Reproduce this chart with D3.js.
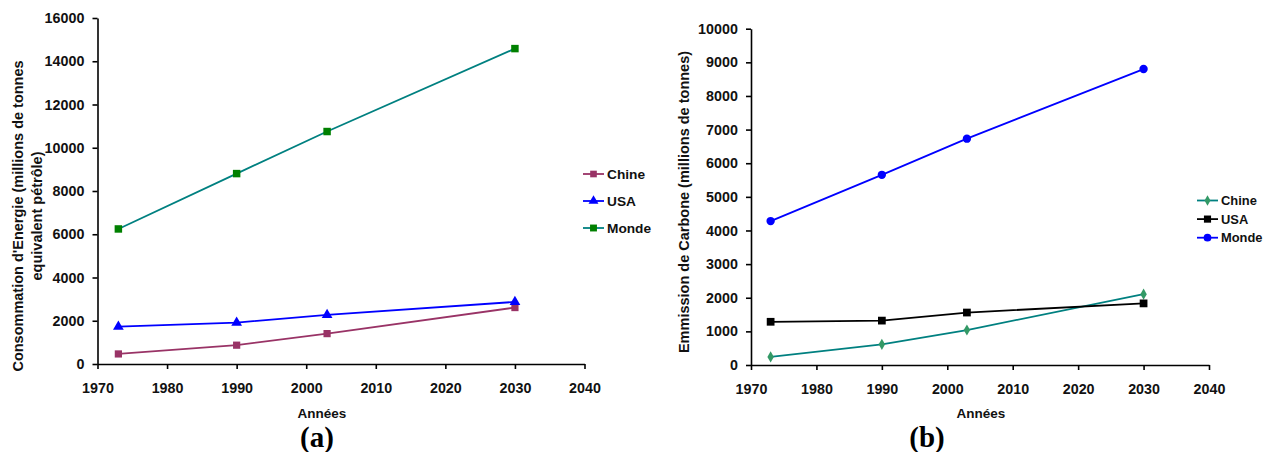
<!DOCTYPE html>
<html><head><meta charset="utf-8">
<script src="https://cdn.jsdelivr.net/npm/d3@7"></script>
<style>body{margin:0;background:#fff}svg{display:block}text{font-family:"Liberation Sans",Arial,sans-serif;font-weight:bold}</style>
</head><body><svg id="c" width="1275" height="452"></svg>
<script>
const years = [1973, 1990, 2003, 2030];
const xTicks = [1970, 1980, 1990, 2000, 2010, 2020, 2030, 2040];
// Chart (a): energy consumption
const energyChine = [465, 870, 1405, 2610];
const energyUSA = [1730, 1915, 2270, 2870];
const energyMonde = [6245, 8805, 10750, 14585];
const energyTicks = [0, 2000, 4000, 6000, 8000, 10000, 12000, 14000, 16000];
// Chart (b): carbon emissions
const carbonChine = [240, 615, 1040, 2105];
const carbonUSA = [1285, 1320, 1560, 1832];
const carbonMonde = [4280, 5655, 6730, 8800];
const carbonTicks = [0, 1000, 2000, 3000, 4000, 5000, 6000, 7000, 8000, 9000, 10000];
const names = ["Chine", "USA", "Monde"];

const svg = d3.select("#c");

function sym(type, size){ return d3.symbol().type(type).size(size)(); }

function panel(cfg){
  const g = svg.append("g");
  const x = d3.scaleLinear().domain([1970, 2040]).range([cfg.x0, cfg.x1]);
  const y = d3.scaleLinear().domain([0, cfg.ymax]).range([cfg.y0, cfg.y1]);
  const xa = g.append("g").attr("transform", `translate(0,${cfg.y0})`)
    .call(d3.axisBottom(x).tickValues(xTicks).tickFormat(d3.format("d")).tickSize(5).tickSizeOuter(0));
  const ya = g.append("g").attr("transform", `translate(${cfg.x0},0)`)
    .call(d3.axisLeft(y).tickValues(cfg.yTicks).tickFormat(d3.format("d")).tickSize(5).tickSizeOuter(0));
  [xa, ya].forEach(a => {
    a.attr("font-family", null).attr("font-size", null);
    a.selectAll("path,line").attr("stroke", "#000").attr("stroke-width", 1.6);
    a.selectAll("text").attr("fill", "#111").style("font-size", "14.3px").style("font-weight", "bold");
  });
  xa.selectAll("text").attr("dy", "1.45em");
  ya.selectAll("text").attr("dx", "-0.36em");
  cfg.series.forEach(s => {
    const line = d3.line().x((d, i) => x(years[i])).y(d => y(d));
    g.append("path").datum(s.values).attr("d", line).attr("fill", "none")
      .attr("stroke", s.line).attr("stroke-width", 1.8);
    g.selectAll(null).data(s.values).enter().append("path")
      .attr("d", sym(s.sym, s.size))
      .attr("transform", (d, i) => `translate(${x(years[i])},${y(d)})`)
      .attr("fill", s.marker);
  });
  // legend
  cfg.series.forEach((s, i) => {
    const ly = cfg.ly + i * cfg.lstep;
    g.append("line").attr("x1", cfg.lx).attr("x2", cfg.lx + 21).attr("y1", ly).attr("y2", ly)
      .attr("stroke", s.line).attr("stroke-width", 1.8);
    g.append("path").attr("d", sym(s.sym, s.size * 0.85)).attr("transform", `translate(${cfg.lx + 10.5},${ly})`).attr("fill", s.marker);
    g.append("text").attr("x", cfg.lx + 24).attr("y", ly).attr("dy", "0.36em")
      .style("font-size", cfg.lfs + "px").attr("fill", "#111").text(s.name);
  });
  // x title
  g.append("text").attr("x", cfg.xtx).attr("y", 418).attr("text-anchor", "middle")
    .style("font-size", "13.5px").attr("fill", "#111").text("Années");
  // panel label
  g.append("text").attr("x", cfg.ltx).attr("y", 447).attr("text-anchor", "middle")
    .style("font-family", "'Liberation Serif','Times New Roman',serif").style("font-size", "29px")
    .attr("fill", "#000").text(cfg.label);
  // y title
  cfg.ytitle.forEach((t, i) => {
    g.append("text").attr("transform", `translate(${t.x},${cfg.ytc}) rotate(-90)`)
      .attr("text-anchor", "middle").attr("dy", "0.35em").style("font-size", "14.5px").attr("fill", "#111").text(t.text);
  });
}

panel({
  x0: 97.5, x1: 584.5, y0: 364, y1: 18, ymax: 16000, yTicks: energyTicks,
  series: [
    {name: names[0], values: energyChine, line: "#993366", marker: "#993366", sym: d3.symbolSquare, size: 52},
    {name: names[1], values: energyUSA, line: "#0000FF", marker: "#0000FF", sym: d3.symbolTriangle, size: 50},
    {name: names[2], values: energyMonde, line: "#008080", marker: "#008000", sym: d3.symbolSquare, size: 56}
  ],
  lx: 583, ly: 174, lstep: 27, lfs: 13.7,
  xtx: 322, ltx: 317, label: "(a)", ytc: 216,
  ytitle: [{x: 18, text: "Consommation d'Energie (millions de tonnes"}, {x: 37, text: "equivalent pétrôle)"}]
});

panel({
  x0: 751, x1: 1209, y0: 365, y1: 28.7, ymax: 10000, yTicks: carbonTicks,
  series: [
    {name: names[0], values: carbonChine, line: "#008080", marker: "#339966", sym: d3.symbolDiamond, size: 36},
    {name: names[1], values: carbonUSA, line: "#000000", marker: "#000000", sym: d3.symbolSquare, size: 60},
    {name: names[2], values: carbonMonde, line: "#0000FF", marker: "#0000FF", sym: d3.symbolCircle, size: 55}
  ],
  lx: 1197, ly: 200.5, lstep: 18.6, lfs: 12.9,
  xtx: 981, ltx: 927, label: "(b)", ytc: 202,
  ytitle: [{x: 684, text: "Emmission de Carbone (millions de tonnes)"}]
});
</script></body></html>
